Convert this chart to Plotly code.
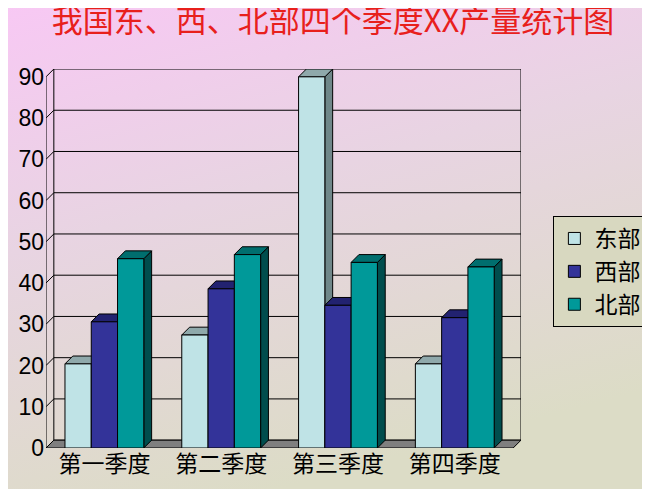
import base64
import plotly.graph_objects as go

quarters = ["第一季度", "第二季度", "第三季度", "第四季度"]
series = ["东部", "西部", "北部"]
values = {
    "东部": [20.4, 27.4, 90, 20.4],
    "西部": [30.6, 38.6, 34.6, 31.6],
    "北部": [45.9, 46.9, 45, 43.9],
}
y_ticks = [0, 10, 20, 30, 40, 50, 60, 70, 80, 90]

front = {"东部": "#bfe3e6", "西部": "#333399", "北部": "#009999"}
top = {"东部": "#8fa9ab", "西部": "#222270", "北部": "#006e6e"}
side = {"东部": "#6f8789", "西部": "#1b1b55", "北部": "#004d4d"}

W, H = 650, 489
ML, MR, MT, MB = 38, 128, 61, 49
DX, DY = 0.067, 1.9
BW = 0.225
XMAX = 3.5 + DX
YMAX = 90 + DY

fig = go.Figure()

# background gradient (svg image stretched over whole page)
svg = (
    f'<svg xmlns="http://www.w3.org/2000/svg" width="{W}" height="{H}" '
    f'viewBox="0 0 {W} {H}" preserveAspectRatio="none">'
    '<defs><linearGradient id="g" x1="0" y1="0" x2="0.35" y2="1">'
    '<stop offset="0" stop-color="#f8c8f4"/><stop offset="0.45" stop-color="#e8d4e2"/>'
    '<stop offset="1" stop-color="#dcdcc6"/></linearGradient></defs>'
    f'<rect width="{W}" height="{H}" fill="url(#g)"/></svg>'
)
src = "data:image/svg+xml;base64," + base64.b64encode(svg.encode()).decode()
pw, ph = W - ML - MR, H - MT - MB
fig.add_layout_image(
    source=src, xref="paper", yref="paper", x=-(ML + 5) / pw, y=1 + (MT + 5) / ph,
    sizex=(W + 10) / pw, sizey=(H + 10) / ph, sizing="stretch", layer="below",
    xanchor="left", yanchor="top",
)

def poly(xs, ys, fill):
    fig.add_trace(go.Scatter(
        x=xs, y=ys, mode="lines", fill="toself", fillcolor=fill,
        line=dict(color="black", width=1), showlegend=False, hoverinfo="skip",
    ))

# walls and gridlines
x0 = -0.5
gx, gy = [], []
for t in y_ticks:
    gx += [x0, x0 + DX, XMAX, None]
    gy += [t, t + DY, t + DY, None]
gx += [x0, x0, None, x0 + DX, x0 + DX, None, XMAX, XMAX]
gy += [0, 90, None, DY, YMAX, None, DY, YMAX]
fig.add_trace(go.Scatter(x=gx, y=gy, mode="lines", line=dict(color="black", width=1),
                         showlegend=False, hoverinfo="skip"))
# floor
poly([x0, x0 + DX, XMAX, 3.5, x0], [0, DY, DY, 0, 0], "#7f7f7f")

for k, s in enumerate(series):
    fx, fy, tx, ty, sx, sy = [], [], [], [], [], []
    for i, v in enumerate(values[s]):
        a = i + (k - 1.5) * BW
        b = a + BW
        fx += [a, a, b, b, a, None]
        fy += [0, v, v, 0, 0, None]
        tx += [a, a + DX, b + DX, b, a, None]
        ty += [v, v + DY, v + DY, v, v, None]
        sx += [b, b + DX, b + DX, b, b, None]
        sy += [0, DY, v + DY, v, 0, None]
    poly(sx, sy, side[s])
    poly(tx, ty, top[s])
    poly(fx, fy, front[s])
    # legend entry
    fig.add_trace(go.Bar(x=[None], y=[None], name=s,
                         marker=dict(color=front[s], line=dict(color="black", width=1))))

fig.update_xaxes(range=[x0, XMAX], tickvals=[0, 1, 2, 3], ticktext=quarters,
                 showgrid=False, zeroline=False, showline=False, ticks="", automargin=False,
                 tickfont=dict(size=23, color="black", family="Noto Sans CJK SC"))
fig.update_yaxes(range=[0, YMAX], tickvals=y_ticks, showgrid=False, zeroline=False,
                 showline=False, ticks="", ticklabelstandoff=1, automargin=False,
                 tickfont=dict(size=23, color="black", family="Liberation Sans"))
fig.update_layout(
    width=W, height=H,
    margin=dict(l=ML, r=MR, t=MT, b=MB),
    paper_bgcolor="#dcdcc6", plot_bgcolor="rgba(0,0,0,0)",
    title=dict(text="我国东、西、北部四个季度XX产量统计图", x=0.5, xanchor="center",
               y=0.995, yanchor="top",
               font=dict(size=31, color="#e8201c", family="Noto Sans CJK SC")),
    legend=dict(x=(555 - ML) / pw, y=1 - (208 - MT) / ph, xanchor="left", yanchor="top",
                bgcolor="#d8d8c0", bordercolor="black", borderwidth=1,
                font=dict(size=23, color="black", family="Noto Sans CJK SC"),
                tracegroupgap=2),
    showlegend=True,
)

fig.write_html("out.html")
